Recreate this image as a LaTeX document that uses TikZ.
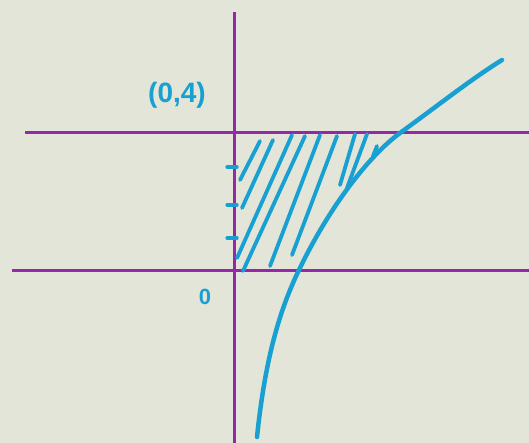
\documentclass[tikz,border=0pt]{standalone}
\usepackage{fontspec}
\setsansfont{Liberation Sans}
\definecolor{paper}{RGB}{226,229,216}
\definecolor{pen}{RGB}{148,40,170}
\definecolor{ink}{RGB}{25,160,210}
\tikzset{
  axisline/.style={pen,line width=3pt},
  curveline/.style={ink,line width=4.5pt,line cap=round},
  hatchline/.style={ink,line width=3.8pt,line cap=round},
  marklab/.style={ink,font=\sffamily\bfseries\fontsize{28}{32}\selectfont}
}
\begin{document}
\begin{tikzpicture}[x=1pt,y=-1pt]
\fill[paper] (0,0) rectangle (529,443);
\useasboundingbox (0,0) rectangle (529,443);
\draw[axisline] (234,12) -- (234,443);
\draw[axisline] (12,270) -- (529,270);
\draw[axisline] (25,133) -- (529,133);
\foreach \y in {167,205,238}{
  \draw[hatchline,line width=3.2pt] (227,\y) -- (237,\y);
}
\foreach \xa/\ya/\xb/\yb in {260/141/240/180,273/140/242/208,292/135/237/258,305/136/243/271,320/135/270/266,337/136/292/255,355/134/340/185,367/134/347/188,377/146/373/156}{
  \draw[hatchline] (\xa,\ya) -- (\xb,\yb);
}
\draw[curveline] (257,437) .. controls (264,370) and (276,318) .. (298,272)
  .. controls (330,205) and (370,155) .. (400,133)
  .. controls (440,104) and (470,80) .. (502,60);
\node[marklab] (lab4) at (177,95) {(0,4)};
\node[marklab,font=\sffamily\bfseries\fontsize{22}{26}\selectfont] (lab0) at (205,297) {0};
\end{tikzpicture}
\end{document}
